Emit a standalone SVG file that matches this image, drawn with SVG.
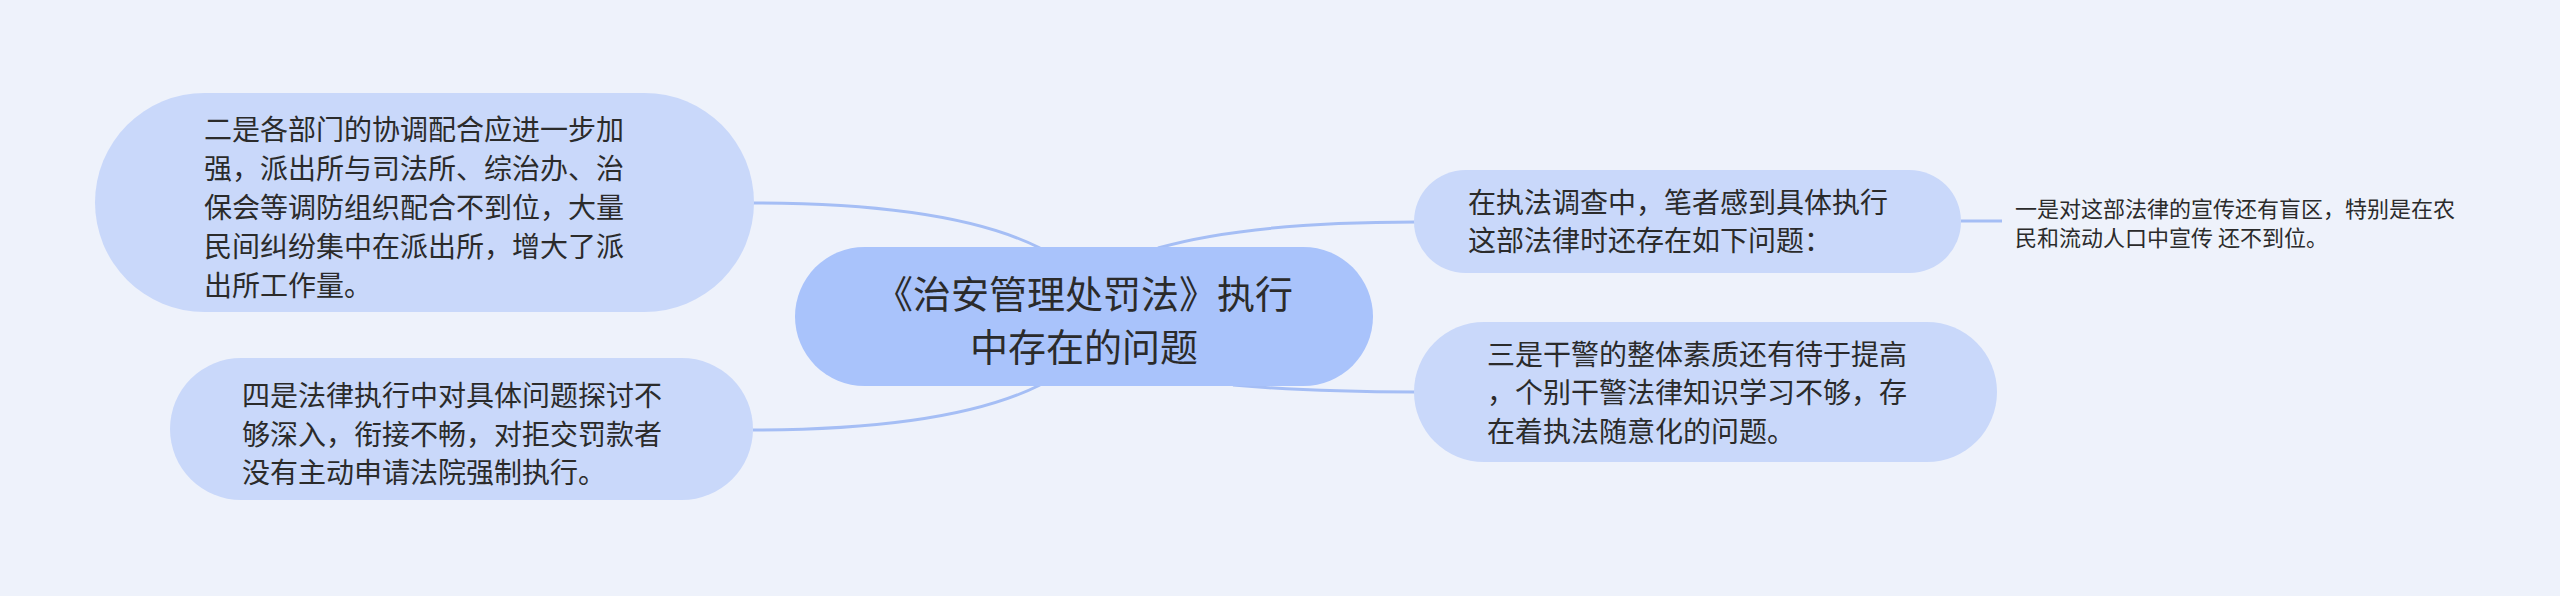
<svg xmlns="http://www.w3.org/2000/svg" width="2560" height="596" viewBox="0 0 2560 596">
<style>
.bg{fill:#eef2fb}
.root{fill:#a9c3fb}
.sub{fill:#c9d8fa}
.edge{fill:none;stroke:#a5bef5;stroke-width:3}
text{font-family:"Noto Sans CJK SC","Liberation Sans",sans-serif;fill:#2b2b2b}
.t{font-size:28px}
.tr{font-size:38px}
.ts{font-size:22px}
</style>
<rect class="bg" x="0" y="0" width="2560" height="596"/>
<g id="connectors">
<path class="edge" d="M1040,248 Q950,203 753,203"/>
<path class="edge" d="M1040,385 Q950,430 753,430"/>
<path class="edge" d="M1158,248 Q1250,222 1416,222"/>
<path class="edge" d="M1233,385 Q1310,392 1416,392"/>
<path class="edge" d="M1961,221 L2002,221"/>
</g>
<g id="root">
<rect class="root" x="795" y="247" width="578" height="139" rx="69.5"/>
<text class="tr" text-anchor="middle"><tspan x="1084" y="308">《治安管理处罚法》执行</tspan><tspan x="1084" y="361">中存在的问题</tspan></text>
</g>
<g id="node-2">
<rect class="sub" x="95" y="93" width="659" height="219" rx="109.5"/>
<text class="t"><tspan x="204" y="140">二是各部门的协调配合应进一步加</tspan><tspan x="204" y="179">强，派出所与司法所、综治办、治</tspan><tspan x="204" y="218">保会等调防组织配合不到位，大量</tspan><tspan x="204" y="257">民间纠纷集中在派出所，增大了派</tspan><tspan x="204" y="296">出所工作量。</tspan></text>
</g>
<g id="node-4">
<rect class="sub" x="170" y="358" width="583" height="142" rx="71"/>
<text class="t"><tspan x="242" y="406">四是法律执行中对具体问题探讨不</tspan><tspan x="242" y="445">够深入，衔接不畅，对拒交罚款者</tspan><tspan x="242" y="483">没有主动申请法院强制执行。</tspan></text>
</g>
<g id="node-intro">
<rect class="sub" x="1414" y="170" width="547" height="103" rx="51.5"/>
<text class="t"><tspan x="1468" y="213">在执法调查中，笔者感到具体执行</tspan><tspan x="1468" y="251">这部法律时还存在如下问题：</tspan></text>
</g>
<g id="node-3">
<rect class="sub" x="1414" y="322" width="583" height="140" rx="70"/>
<text class="t"><tspan x="1487" y="365">三是干警的整体素质还有待于提高</tspan><tspan x="1487" y="403">，个别干警法律知识学习不够，存</tspan><tspan x="1487" y="442">在着执法随意化的问题。</tspan></text>
</g>
<g id="node-1">
<text class="ts"><tspan x="2015" y="217">一是对这部法律的宣传还有盲区，特别是在农</tspan><tspan x="2015" y="246">民和流动人口中宣传 还不到位。</tspan></text>
</g>
</svg>
